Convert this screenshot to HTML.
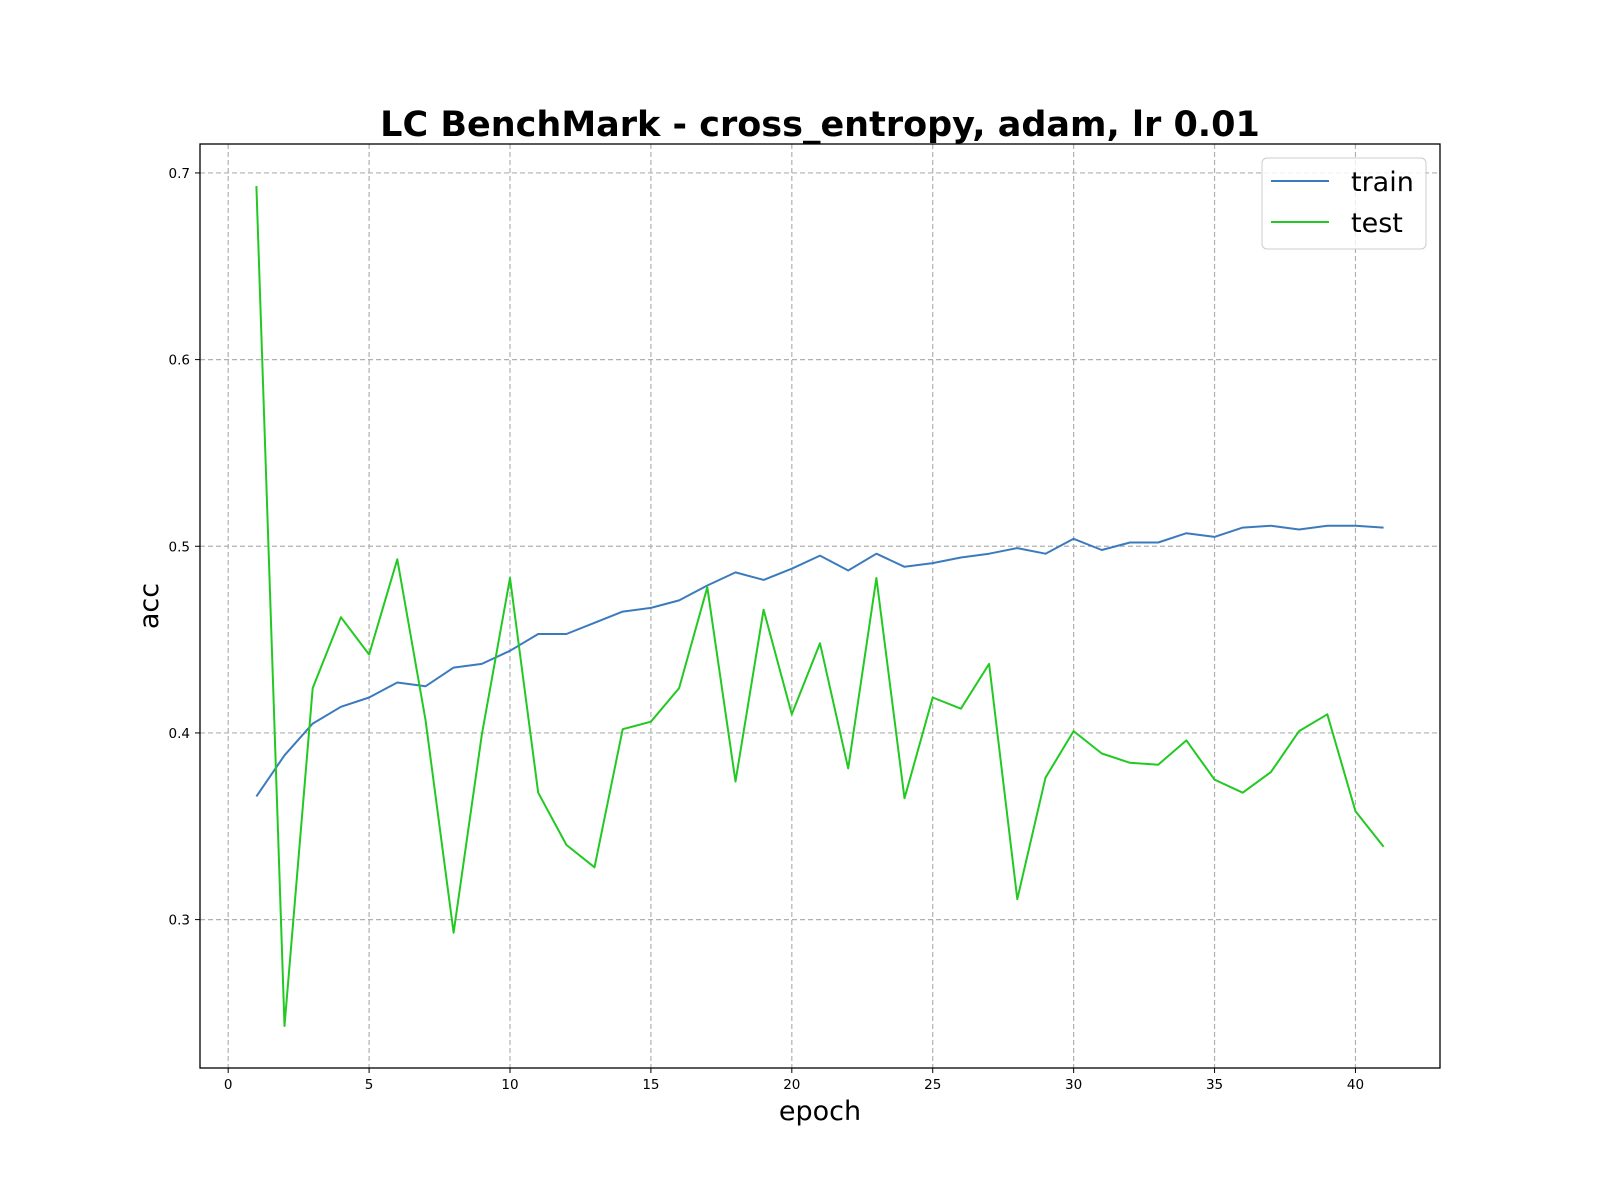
<!DOCTYPE html>
<html><head><meta charset="utf-8"><style>
body{margin:0;background:#fff;}
svg{display:block;font-family:"DejaVu Sans","Liberation Sans",sans-serif;}
</style></head><body>
<svg id="chart" width="1600" height="1200">
<text x="820" y="136" text-anchor="middle" font-size="35" font-weight="bold">LC BenchMark - cross_entropy, adam, lr 0.01</text>
<g id="grid"></g>
<g id="ticks"></g>
<g id="series"></g>
<rect x="200" y="144" width="1240" height="924" fill="none" stroke="#000" stroke-width="1.3"/>
<text x="820" y="1120" text-anchor="middle" font-size="27">epoch</text>
<text transform="translate(158,606) rotate(-90)" text-anchor="middle" font-size="27">acc</text>
<g>
<rect x="1262" y="158" width="164" height="91" rx="5" fill="#fff" fill-opacity="0.8" stroke="#ccc"/>
<line x1="1271" y1="181" x2="1329" y2="181" stroke="#3b7bbd" stroke-width="2"/>
<text x="1351" y="191" font-size="27">train</text>
<line x1="1271" y1="222" x2="1329" y2="222" stroke="#22c922" stroke-width="2"/>
<text x="1351" y="232" font-size="27">test</text>
</g>
</svg>
<script>
const epochs = Array.from({length:41},(_,i)=>i+1);
const trainAcc = [0.366,0.388,0.405,0.414,0.419,0.427,0.425,0.435,0.437,0.444,0.453,0.453,0.459,0.465,0.467,0.471,0.479,0.486,0.482,0.488,0.495,0.487,0.496,0.489,0.491,0.494,0.496,0.499,0.496,0.504,0.498,0.502,0.502,0.507,0.505,0.510,0.511,0.509,0.511,0.511,0.510];
const testAcc = [0.693,0.243,0.424,0.462,0.442,0.493,0.407,0.293,0.399,0.483,0.368,0.340,0.328,0.402,0.406,0.424,0.478,0.374,0.466,0.410,0.448,0.381,0.483,0.365,0.419,0.413,0.437,0.311,0.376,0.401,0.389,0.384,0.383,0.396,0.375,0.368,0.379,0.401,0.410,0.358,0.339];
const xTicks = [0,5,10,15,20,25,30,35,40];
const yTicks = [0.3,0.4,0.5,0.6,0.7];
const yTickLabels = ["0.3","0.4","0.5","0.6","0.7"];

const L=200,R=1440,T=144,B=1068;
const allY = trainAcc.concat(testAcc);
const yMinD=Math.min(...allY), yMaxD=Math.max(...allY);
const xMinD=Math.min(...epochs), xMaxD=Math.max(...epochs);
const xm=(xMaxD-xMinD)*0.05, ym=(yMaxD-yMinD)*0.05;
const x0=xMinD-xm, x1=xMaxD+xm, y0=yMinD-ym, y1=yMaxD+ym;
const sx=v=>L+(v-x0)/(x1-x0)*(R-L);
const sy=v=>B-(v-y0)/(y1-y0)*(B-T);
const NS="http://www.w3.org/2000/svg";
function mk(tag,attrs,parent){const e=document.createElementNS(NS,tag);for(const k in attrs)e.setAttribute(k,attrs[k]);parent.appendChild(e);return e;}
const grid=document.getElementById('grid'), ticks=document.getElementById('ticks'), series=document.getElementById('series');
xTicks.forEach(t=>{
  const x=sx(t);
  const g=mk('line',{x1:x,x2:x,y1:T,y2:B,stroke:'#b0b0b0','stroke-dasharray':'5,3','stroke-width':1.2},grid);
  
  
  const tk=mk('line',{x1:x,x2:x,y1:B,y2:B+5,stroke:'#000'},ticks);
  
  
  const lb=mk('text',{x:x,y:B+21,'text-anchor':'middle','font-size':13.5},ticks);
  lb.textContent=String(t);
  
  
});
yTicks.forEach((t,i)=>{
  const y=sy(t);
  const g=mk('line',{x1:L,x2:R,y1:y,y2:y,stroke:'#b0b0b0','stroke-dasharray':'5,3','stroke-width':1.2},grid);
  
  
  const tk=mk('line',{x1:L-5,x2:L,y1:y,y2:y,stroke:'#000'},ticks);
  
  
  const lb=mk('text',{x:L-10,y:y+5,'text-anchor':'end','font-size':13.5},ticks);
  lb.textContent=yTickLabels[i];
  
  
});
function line(vals,color,name){
  const d=vals.map((v,i)=>(i?'L':'M')+sx(epochs[i]).toFixed(1)+','+sy(v).toFixed(1)).join('');
  const p=mk('path',{d:d,fill:'none',stroke:color,'stroke-width':2,'stroke-linejoin':'round'},series);
  
  
}
line(trainAcc,'#3b7bbd','train-line');
line(testAcc,'#22c922','test-line');
</script>
</body></html>
